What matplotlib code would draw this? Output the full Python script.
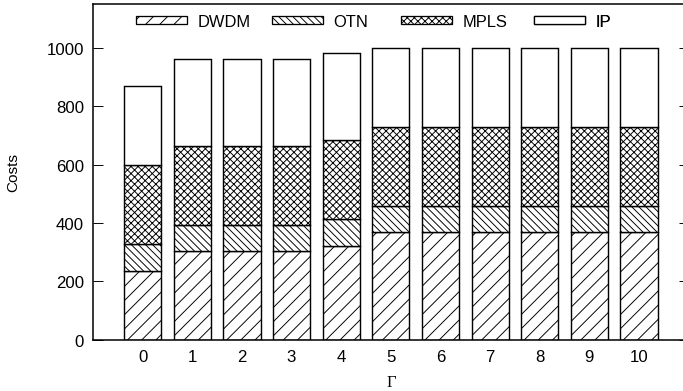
import matplotlib
matplotlib.use("Agg")
import matplotlib.pyplot as plt
import numpy as np
from matplotlib.patches import Patch

gamma = [0, 1, 2, 3, 4, 5, 6, 7, 8, 9, 10]
dwdm = [236, 302, 302, 302, 320, 368, 368, 368, 368, 368, 368]
otn = [92, 92, 92, 92, 94, 90, 90, 90, 90, 90, 90]
mpls = [272, 270, 270, 270, 271, 272, 272, 272, 272, 272, 272]
ip = [270, 298, 298, 298, 297, 270, 270, 270, 270, 270, 270]
series = [("DWDM", dwdm, "//"), ("OTN", otn, "\\\\\\\\"), ("MPLS", mpls, "xxxx"), ("IP", ip, "")]

DPI = 85
plt.rcParams["font.family"] = ["Liberation Sans", "DejaVu Sans"]
plt.rcParams["hatch.linewidth"] = 0.8
plt.rcParams["hatch.color"] = "black"

fig = plt.figure(figsize=(683 / DPI, 392 / DPI), dpi=DPI)
W, H = 683, 392
left, right, top, bottom = 93, 688.7, 5, 340.6
ax = fig.add_axes([left / W, 1 - bottom / H, (right - left) / W, (bottom - top) / H])

x = np.arange(len(gamma))
base = np.zeros(len(gamma))
handles = []
for name, vals, hatch in series:
    ax.bar(x, vals, width=0.75, bottom=base, color="white", edgecolor="black",
           linewidth=1.2, hatch=hatch, zorder=2)
    base += np.array(vals)
    handles.append(Patch(facecolor="white", edgecolor="black", linewidth=1.1, hatch=hatch, label=name))

ax.set_xlim(-1, 11)
ax.set_ylim(0, 1150)
ax.set_xticks(x)
ax.set_xticklabels([str(g) for g in gamma])
ax.set_yticks([0, 200, 400, 600, 800, 1000])
ax.tick_params(axis="y", direction="in", length=8.5, width=0.8, left=True, right=True,
               labelsize=14.2, pad=7.5)
ax.tick_params(axis="x", length=0, labelsize=14.2, pad=8)
for s in ax.spines.values():
    s.set_linewidth(1.3)

fig.text(13 / W, 1 - 173 / H, "Costs", rotation=90, ha="center", va="center", fontsize=13)
fig.text(391 / W, 1 - 383 / H, "Γ", ha="center", va="center", fontsize=14,
         family=["Liberation Serif", "DejaVu Serif"])

# legend entries in fixed-width columns
patch_starts = [136, 271.7, 401, 534]
leg_y = (bottom - 22.4) / (bottom - top)
for h, px in zip(handles, patch_starts):
    lg = ax.legend(handles=[h], loc="center left",
                   bbox_to_anchor=((px - left) / (right - left), leg_y),
                   frameon=False, fontsize=14, handlelength=3.08, handleheight=0.45,
                   handletextpad=0.64, borderpad=0, borderaxespad=0)
    ax.add_artist(lg)

fig.savefig("out.png", dpi=DPI)
